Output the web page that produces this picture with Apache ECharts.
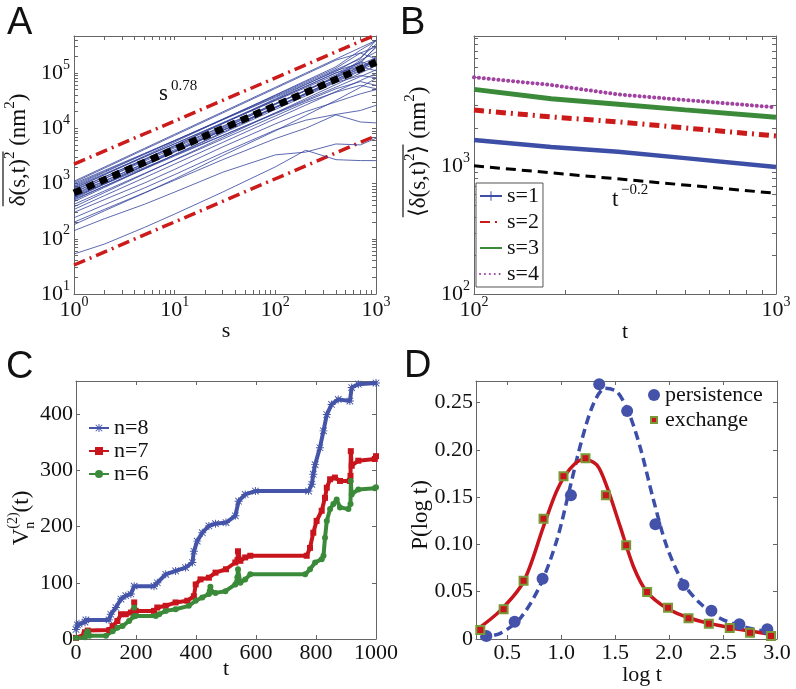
<!DOCTYPE html>
<html><head><meta charset="utf-8">
<script src="https://cdn.jsdelivr.net/npm/echarts@6/dist/echarts.min.js"></script>
<style>html,body{margin:0;padding:0;background:#fff}#c{width:796px;height:689px}</style>
</head><body><div id="c"></div>
<script>
// ---------------- Panel A data ----------------
const sA = [1, 2, 5, 10, 30, 100, 200, 400, 700, 1000];
const aTrajectories = [
  [1100,1980,4320,7790,19800,55100,99400,179000,288000,390000],
  [1050,1890,4130,7430,18900,52600,94900,171000,230000,300000],
  [1000,1720,3500,6000,14200,36300,62400,107000,190000,330000],
  [950,1650,3440,6000,14400,37800,65800,115000,180000,400000],
  [900,1590,3370,5950,14700,39300,69300,122000,230000,180000],
  [870,1500,3050,5250,12400,31600,54300,93000,144000,190000],
  [830,1440,3000,5240,12600,33000,57500,100000,157000,290000],
  [800,1440,3140,5660,14400,40100,72300,130000,260000,380000],
  [770,1320,2700,4640,10900,28000,48000,82400,128000,169000],
  [740,1310,2770,4890,12100,32300,57000,101000,130000,110000],
  [700,1220,2530,4420,10600,27900,48500,84700,132000,176000],
  [680,1220,2670,4810,12200,34100,61500,111000,150000,300000],
  [650,1120,2280,3920,9230,23600,40600,69600,108000,200000],
  [620,1100,2320,4100,10100,27100,47700,84300,160000,130000],
  [600,1040,2170,3790,9120,23900,41600,72600,113000,151000],
  [580,974,1940,3260,7420,18300,30900,51900,70000,60000],
  [560,991,2090,3700,9130,24500,43100,76200,120000,161000],
  [540,972,2120,3820,9720,27100,48800,88000,170000,240000],
  [520,894,1830,3140,7380,18900,32400,55600,86300,114000],
  [500,885,1870,3300,8150,21900,38500,68000,90000,82000],
  [470,846,1850,3330,8460,23500,42500,76600,123000,167000],
  [420,731,1520,2650,6380,16700,29100,45000,60000,52000],
  [380,684,1490,2690,6840,19000,34400,61900,99600,135000],
  [340,602,1270,2250,5540,14900,26200,46200,73100,97900],
  [300,510,1020,1800,4600,12000,20000,30000,42000,50000],
  [240,410,830,1450,3600,9300,14000,17800,21000,26000],
  [200,340,680,1150,2700,6500,10000,17500,13000,12500],
  [180,320,670,1200,3200,9000,17000,32000,55000,80000],
  [140,230,420,700,1600,3300,3700,5200,5000,6600],
  [53,80,160,280,700,2000,4000,2700,2600,2600]
];
const fitSA = [1, 1000];
const upperA = [2250, 493000];
const lowerA = [33.5, 7330];
const meanA = [676, 158000];

// ---------------- Panel B data ----------------
const tB = [100, 180, 300, 500, 1000];
const bS1 = [1610, 1420, 1300, 1160, 990];
const bS2 = [2760, 2440, 2230, 2000, 1730];
const bS3 = [4010, 3380, 3070, 2770, 2420];
const bS4 = [4980, 4340, 3660, 3310, 2900];
const tBfit = [100, 1000];
const bFit = [1010, 615];

// ---------------- Panel C data ----------------
const tC8 = [0,5,10,30,33,110,116,133,150,166,183,194,260,271,299,332,365,388,393,404,421,443,465,500,531,542,564,598,775,786,791,797,813,825,836,852,874,913,919,941,1000];
const vC8 = [17,25,27,30,34,34,44,56,71,77,80,94,94,100,115,121,127,136,156,174,189,201,205,207,219,245,257,263,263,275,293,310,340,370,399,417,426,423,447,453,455];
const tC7 = [0,28,30,39,111,122,138,150,166,183,192,194,199,260,271,299,332,371,393,399,415,443,465,500,531,538,540,548,564,581,769,780,791,802,819,830,836,847,863,880,913,915,916,919,941,996,1000];
const vC7 = [2,8,12,15,16,23,32,44,44,47,50,65,50,50,56,59,65,68,76,97,106,109,118,124,136,140,156,139,145,148,148,162,189,210,228,251,269,284,287,281,281,290,334,308,317,320,325];
const tC6 = [0,30,35,39,45,100,122,138,155,177,192,194,199,266,277,299,332,376,399,421,443,446,448,452,465,498,531,538,540,548,564,581,764,780,797,819,825,830,836,847,858,869,880,908,915,916,919,941,996,1000];
const vC6 = [2,3,10,14,6,6,14,20,23,32,40,56,41,41,44,50,53,59,68,74,80,86,93,84,82,85,97,110,124,100,106,115,115,124,136,142,148,180,210,231,240,248,234,231,240,281,257,266,268,270];
const cTicksX = [0, 200, 400, 600, 800, 1000];
const cTicksY = [0, 100, 200, 300, 400];

// ---------------- Panel D data ----------------
const persX = [0.306,0.568,0.827,1.09,1.352,1.611,1.873,2.133,2.392,2.651,2.91];
const persY = [0.0032,0.0183,0.0637,0.1519,0.2692,0.241,0.1213,0.0571,0.0299,0.0155,0.0103];
const exchX = [0.25,0.466,0.651,0.836,1.021,1.225,1.414,1.602,1.796,1.99,2.18,2.368,2.562,2.75,2.944];
const exchY = [0.0095,0.0314,0.0616,0.1272,0.172,0.191,0.1519,0.099,0.0497,0.0331,0.0219,0.0162,0.0116,0.0067,0.0032];
const persFitX = [0.25,0.435,0.62,0.806,0.96,1.083,1.19,1.30,1.407,1.516,1.623,1.731,1.855,1.979,2.132,2.287,2.472,2.688,2.905,2.99];
const persFitY = [0.0014,0.006,0.0219,0.057,0.1047,0.161,0.21,0.249,0.265,0.2614,0.24,0.203,0.147,0.0976,0.0589,0.0377,0.0219,0.013,0.0077,0.0067];
const exchFitX = [0.213,0.435,0.651,0.836,0.96,1.083,1.207,1.33,1.423,1.546,1.67,1.793,1.979,2.194,2.44,2.688,2.99];
const exchFitY = [0.0095,0.030,0.0606,0.119,0.157,0.180,0.190,0.184,0.161,0.119,0.0764,0.050,0.0324,0.0219,0.0148,0.0095,0.0042];
const dTicksX = [0.5, 1.0, 1.5, 2.0, 2.5, 3.0];
const dTicksY = [0, 0.05, 0.10, 0.15, 0.20, 0.25];

// log-axis tick positions (decades and in-between minor ticks)
const aTicksX = [1,2,3,4,5,6,7,8,9,10,20,30,40,50,60,70,80,90,100,200,300,400,500,600,700,800,900,1000];
const aTicksY = [10,20,30,40,50,60,70,80,90,100,200,300,400,500,600,700,800,900,1000,2000,3000,4000,5000,6000,7000,8000,9000,
  10000,20000,30000,40000,50000,60000,70000,80000,90000,100000,200000,300000,400000];
const bTicksX = [100,200,300,400,500,600,700,800,900,1000];
const bTicksY = [100,200,300,400,500,600,700,800,900,1000,2000,3000,4000,5000,6000,7000,8000,9000,10000];

// ---------------- styling helpers ----------------
const SERIF = '"Liberation Serif", "Times New Roman", serif';
const SANS = '"Liberation Sans", Arial, sans-serif';
const TXT = '#111';
const AXC = '#666';
const zip = (a, b) => a.map((v, i) => [v, b[i]]);

const richSup = {
  m: {fontSize: 22, fontFamily: SERIF, color: TXT, lineHeight: 30},
  p: {fontSize: 14, fontFamily: SERIF, color: TXT, lineHeight: 16, verticalAlign: 'top'}
};
function supFmt(allowed) {
  return function (v) {
    const e = Math.log10(v), r = Math.round(e);
    if (Math.abs(e - r) > 1e-6) return '';
    if (allowed && allowed.indexOf(r) < 0) return '';
    return '{m|10}{p|' + r + '}';
  };
}
const axLine = {show: true, onZero: false, lineStyle: {color: AXC, width: 1}};
const tick = {show: true, inside: true, length: 4, lineStyle: {color: AXC}};
function ax(gridIndex, position, extra, label, tickExtra) {
  return Object.assign({
    gridIndex, position, axisLine: axLine,
    axisTick: Object.assign({}, tick, tickExtra || {}),
    splitLine: {show: false},
    axisLabel: label || {show: false}
  }, extra);
}
const plainLab = (margin, fmt, cv) => ({show: true, margin, fontSize: 22, fontFamily: SERIF, color: TXT, formatter: fmt, customValues: cv});
const logLab = (margin, allowed) => ({show: true, margin, formatter: supFmt(allowed), rich: richSup});
const LA_X = {type: 'log', logBase: 10, min: 1, max: 1000};
const LA_Y = {type: 'log', logBase: 10, min: 10, max: 468000};
const LB_X = {type: 'log', logBase: 10, min: 100, max: 1000};
const LB_Y = {type: 'log', logBase: 10, min: 100, max: 10500};

const xAxis = [
  ax(0, 'bottom', LA_X, logLab(1), {customValues: aTicksX}),
  ax(0, 'top', LA_X, null, {customValues: aTicksX}),
  ax(1, 'bottom', LB_X, logLab(1), {customValues: bTicksX}),
  ax(1, 'top', LB_X, null, {customValues: bTicksX}),
  ax(2, 'bottom', {type: 'value', min: 0, max: 1000}, plainLab(3, v => String(v), cTicksX), {customValues: cTicksX}),
  ax(2, 'top', {type: 'value', min: 0, max: 1000}, null, {customValues: cTicksX}),
  ax(3, 'bottom', {type: 'value', min: 0.21, max: 3.0}, plainLab(3, v => v.toFixed(1), dTicksX), {customValues: dTicksX}),
  ax(3, 'top', {type: 'value', min: 0.21, max: 3.0}, null, {customValues: dTicksX})
];
const yAxis = [
  ax(0, 'left', LA_Y, logLab(4), {customValues: aTicksY}),
  ax(0, 'right', LA_Y, null, {customValues: aTicksY}),
  ax(1, 'left', LB_Y, logLab(4, [2, 3]), {customValues: bTicksY}),
  ax(1, 'right', LB_Y, null, {customValues: bTicksY}),
  ax(2, 'left', {type: 'value', min: 0, max: 458.7}, plainLab(3, v => String(v), cTicksY), {customValues: cTicksY}),
  ax(2, 'right', {type: 'value', min: 0, max: 458.7}, null, {customValues: cTicksY}),
  ax(3, 'left', {type: 'value', min: 0, max: 0.2727}, plainLab(3, v => v === 0 ? '0' : v.toFixed(2), dTicksY), {customValues: dTicksY}),
  ax(3, 'right', {type: 'value', min: 0, max: 0.2727}, null, {customValues: dTicksY})
];

const series = [];
// Panel A
series.push({type: 'line', xAxisIndex: 0, yAxisIndex: 0, data: zip(fitSA, upperA), symbol: 'none', z: 1,
  lineStyle: {color: '#cc1b1b', width: 3.5, type: [12, 5, 2, 5]}});
series.push({type: 'line', xAxisIndex: 0, yAxisIndex: 0, data: zip(fitSA, lowerA), symbol: 'none', z: 1,
  lineStyle: {color: '#cc1b1b', width: 3.5, type: [12, 5, 2, 5]}});
aTrajectories.forEach(vals => series.push({type: 'line', xAxisIndex: 0, yAxisIndex: 0, data: zip(sA, vals),
  symbol: 'none', z: 2, lineStyle: {color: '#33439c', width: 0.8}}));
series.push({type: 'line', xAxisIndex: 0, yAxisIndex: 0, data: zip(fitSA, meanA), symbol: 'none', z: 3,
  lineStyle: {color: '#000', width: 7, type: [8, 6]}});
// Panel B
const plus = 'path://M4.5,0h1v10h-1z M0,4.5h10v1h-10z';
series.push({type: 'line', xAxisIndex: 2, yAxisIndex: 2, data: zip(tBfit, bFit), symbol: 'none',
  lineStyle: {color: '#000', width: 3, type: [10, 6]}});
series.push({name: 's=1', type: 'line', xAxisIndex: 2, yAxisIndex: 2, data: zip(tB, bS1), symbol: plus, symbolSize: 7, showSymbol: false,
  itemStyle: {color: '#3d4ea6'}, lineStyle: {color: '#3d4ea6', width: 4.5}});
series.push({name: 's=2', type: 'line', xAxisIndex: 2, yAxisIndex: 2, data: zip(tB, bS2), symbol: 'none',
  itemStyle: {color: '#cc1a1a'}, lineStyle: {color: '#cc1a1a', width: 5, type: [10, 5, 2, 5]}});
series.push({name: 's=3', type: 'line', xAxisIndex: 2, yAxisIndex: 2, data: zip(tB, bS3), symbol: 'none',
  itemStyle: {color: '#3a8a3a'}, lineStyle: {color: '#3a8a3a', width: 5}});
series.push({name: 's=4', type: 'line', xAxisIndex: 2, yAxisIndex: 2, data: zip(tB, bS4), symbol: 'none',
  itemStyle: {color: '#a043a0'}, lineStyle: {color: '#a043a0', width: 4, type: [0.1, 4.8], cap: 'round'}});
// Panel C
const asterisk = 'path://M4.4,0h1.2v10h-1.2z M0,4.4h10v1.2h-10z M1.3,0.5l8.2,8.2l-0.8,0.8l-8.2,-8.2z M8.7,0.5l0.8,0.8l-8.2,8.2l-0.8,-0.8z';
series.push({name: 'n=8', type: 'line', xAxisIndex: 4, yAxisIndex: 4, data: zip(tC8, vC8), symbol: asterisk, symbolSize: 8,
  itemStyle: {color: '#4454a8'}, lineStyle: {color: '#4454a8', width: 4}});
series.push({name: 'n=7', type: 'line', xAxisIndex: 4, yAxisIndex: 4, data: zip(tC7, vC7), symbol: 'rect', symbolSize: 6,
  itemStyle: {color: '#c8141c'}, lineStyle: {color: '#c8141c', width: 4}});
series.push({name: 'n=6', type: 'line', xAxisIndex: 4, yAxisIndex: 4, data: zip(tC6, vC6), symbol: 'circle', symbolSize: 6,
  itemStyle: {color: '#3a8a3a'}, lineStyle: {color: '#3a8a3a', width: 4}});
// Panel D
series.push({type: 'line', xAxisIndex: 6, yAxisIndex: 6, data: zip(persFitX, persFitY), symbol: 'none', smooth: 0.3,
  lineStyle: {color: '#3c4ea8', width: 3.5, type: [9, 5]}});
series.push({type: 'line', xAxisIndex: 6, yAxisIndex: 6, data: zip(exchFitX, exchFitY), symbol: 'none', smooth: 0.3,
  lineStyle: {color: '#c8141c', width: 3.5}});
series.push({name: 'persistence', type: 'scatter', xAxisIndex: 6, yAxisIndex: 6, data: zip(persX, persY), symbol: 'circle', symbolSize: 12,
  itemStyle: {color: '#4452aa', opacity: 1}, z: 5});
series.push({name: 'exchange', type: 'scatter', xAxisIndex: 6, yAxisIndex: 6, data: zip(exchX, exchY), symbol: 'rect', symbolSize: 8,
  itemStyle: {color: '#c8141c', borderColor: '#7a9a3a', borderWidth: 2, opacity: 1}, z: 5});

// ---------------- text graphics ----------------
const mctx = document.createElement('canvas').getContext('2d');
function tw(text, size, fam) { mctx.font = size + 'px ' + fam; return mctx.measureText(text).width; }
function txt(x, y, text, size, fam, align, valign) {
  return {type: 'text', x, y, silent: true, style: {text, font: size + 'px ' + fam, fill: TXT,
    textAlign: align || 'left', textVerticalAlign: valign || 'middle', align: align || 'left', verticalAlign: valign || 'middle'}};
}
function rotLabel(cx, cy, parts, overY) {
  const children = [];
  let W = 0;
  parts.forEach(p => { p.w = tw(p.t, p.size, SERIF); W += (p.noAdvance ? 0 : (p.advance != null ? p.advance : p.w)); });
  let x = -W / 2, o0 = null, o1 = null;
  parts.forEach(p => {
    children.push(txt(x, p.dy || 0, p.t, p.size, SERIF, 'left', 'middle'));
    if (p.over) { if (o0 === null) o0 = x; o1 = x + p.w; }
    if (!p.noAdvance) x += (p.advance != null ? p.advance : p.w);
  });
  if (o0 !== null) children.push({type: 'line', silent: true, shape: {x1: o0, y1: overY, x2: o1, y2: overY}, style: {stroke: TXT, lineWidth: 1.2}});
  return {type: 'group', x: cx, y: cy, rotation: Math.PI / 2, children};
}
const graphic = [
  txt(7, 24, 'A', 38, SANS), txt(400, 24, 'B', 38, SANS),
  txt(6, 368, 'C', 38, SANS), txt(404, 367, 'D', 38, SANS),
  txt(226, 331, 's', 22, SERIF, 'center'),
  txt(625, 332, 't', 22, SERIF, 'center'),
  txt(226, 669, 't', 22, SERIF, 'center'),
  txt(642, 675, 'log t', 22, SERIF, 'center'),
  txt(159, 94, 's', 23, SERIF), txt(171, 86, '0.78', 15, SERIF),
  txt(612, 200, 't', 23, SERIF), txt(621, 190, '\u22120.2', 15, SERIF),
  rotLabel(19, 150, [
    {t: '\u03b4(s,t)', size: 23, over: true}, {t: '2', size: 15, dy: -9, over: true},
    {t: ' (nm', size: 23}, {t: '2', size: 15, dy: -9}, {t: ')', size: 23}], -16),
  rotLabel(419, 152, [
    {t: '\u27e8\u03b4(s,t)', size: 23, over: true}, {t: '2', size: 15, dy: -9, over: true}, {t: '\u27e9', size: 23, over: true},
    {t: ' (nm', size: 23}, {t: '2', size: 15, dy: -9}, {t: ')', size: 23}], -16),
  rotLabel(22, 518, [
    {t: 'V', size: 23}, {t: '(2)', size: 14, dy: -9, noAdvance: true},
    {t: 'n', size: 14, dy: 8, advance: tw('(2)', 14, SERIF)}, {t: '(t)', size: 23}], 0),
  rotLabel(421, 515, [{t: 'P(log t)', size: 23}], 0)
];

const legTxt = {fontSize: 22, fontFamily: SERIF, color: TXT};
const hideSym = {opacity: 0};
const option = {
  animation: false,
  backgroundColor: '#fff',
  grid: [
    {left: 74, top: 36, width: 302, height: 258},
    {left: 474, top: 36, width: 302, height: 258},
    {left: 76, top: 381, width: 300, height: 258},
    {left: 476, top: 381, width: 301, height: 258}
  ],
  xAxis, yAxis, series, graphic,
  legend: [
    {data: [{name: 's=1'}, {name: 's=2', itemStyle: hideSym}, {name: 's=3', itemStyle: hideSym}, {name: 's=4', itemStyle: hideSym}],
      orient: 'vertical', left: 476, top: 183, padding: [2, 4, 2, 3],
      itemGap: 4, itemWidth: 22, itemHeight: 12, backgroundColor: '#fff', borderColor: '#555', borderWidth: 1,
      textStyle: legTxt, selectedMode: false},
    {data: ['n=8', 'n=7', 'n=6'], orient: 'vertical', left: 88, top: 417, padding: 0,
      itemGap: 1, itemWidth: 20, itemHeight: 10, textStyle: legTxt, selectedMode: false},
    {data: [{name: 'persistence', icon: 'circle'}, {name: 'exchange', icon: 'path://M0,0M12,12M3,3h6v6h-6z'}],
      orient: 'vertical', left: 647, top: 384, padding: 0,
      itemGap: 3, itemWidth: 12, itemHeight: 12, textStyle: legTxt, selectedMode: false}
  ]
};
const chart = echarts.init(document.getElementById('c'));
chart.setOption(option);
</script></body></html>
